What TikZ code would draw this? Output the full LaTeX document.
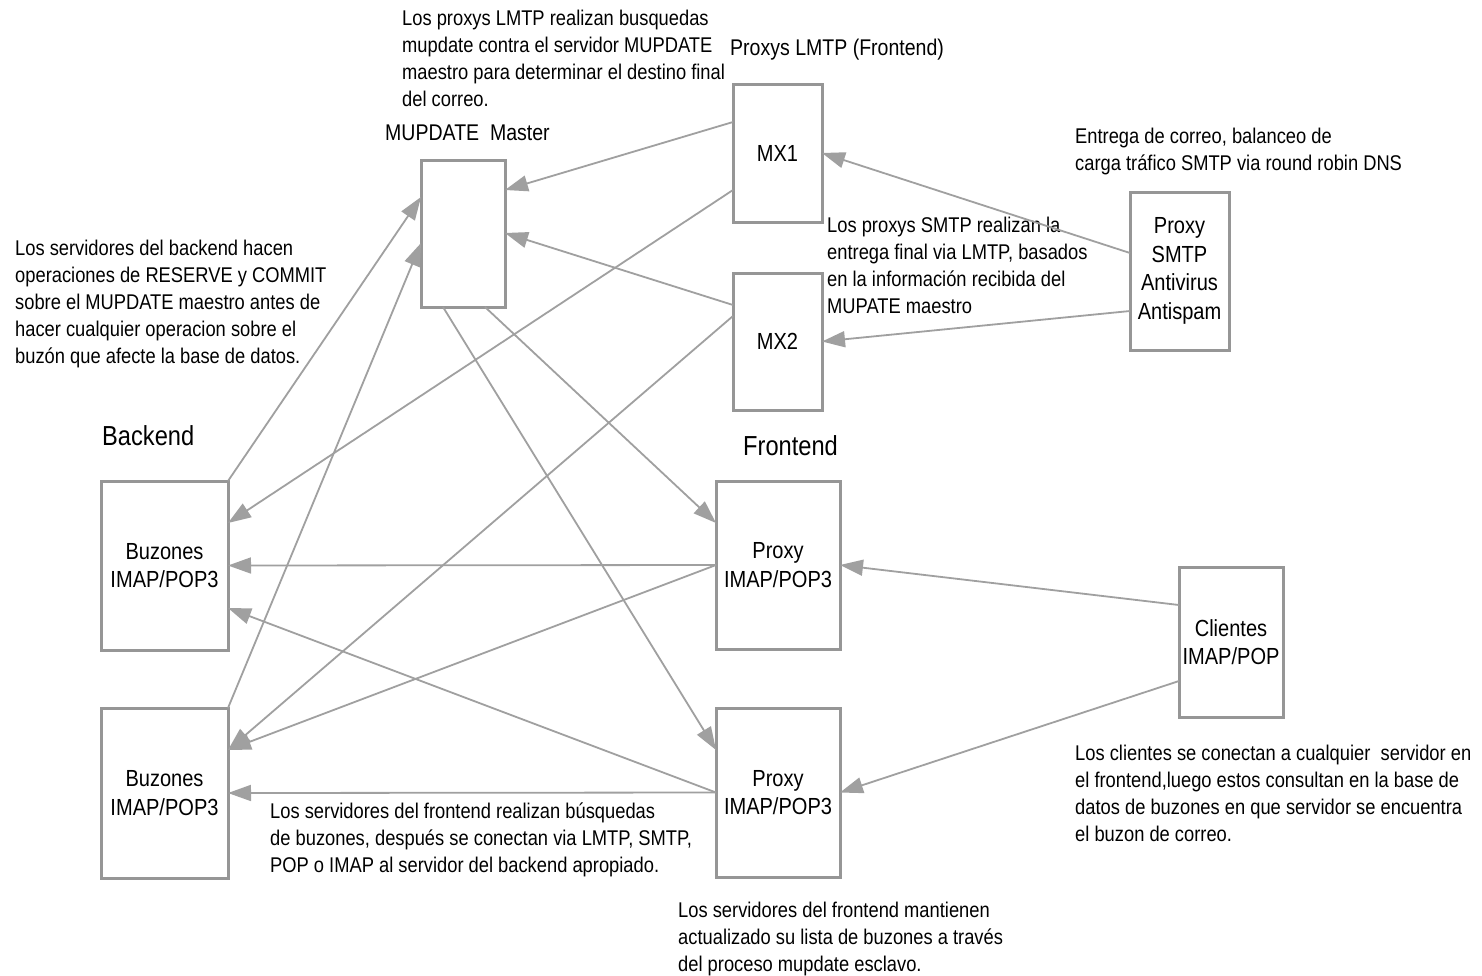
\documentclass[tikz,border=0pt]{standalone}
\usepackage{fontspec}
\setmainfont[FakeStretch=0.86]{Liberation Sans}
\usetikzlibrary{arrows.meta,calc}
\definecolor{linegray}{RGB}{160,160,160}
\definecolor{boxgray}{RGB}{150,150,150}
\begin{document}
\begin{tikzpicture}[x=1pt,y=-1pt,
  box/.style={draw=boxgray,line width=3pt,inner sep=0pt,outer sep=0pt,
    align=center,font=\fontsize{23.3}{28.5}\selectfont},
  link/.style={draw=linegray,line width=1.8pt,
    -{Triangle[length=23pt,width=16pt]}},
  note/.style={anchor=north west,inner sep=0pt,align=left,
    font=\fontsize{21.3}{27}\selectfont},
  head/.style={anchor=west,inner sep=0pt,font=\fontsize{22.7}{26}\selectfont},
  group/.style={anchor=west,inner sep=0pt,font=\fontsize{27.5}{30}\selectfont}]

\fill[white] (0,0) rectangle (1482,975);
\useasboundingbox (0,0) rectangle (1482,975);

% servers
\node[box,minimum width=84pt,minimum height=147pt] (mup) at (463,233.5) {};
\node[box,minimum width=89pt,minimum height=138pt] (mx1) at (777.5,153) {MX1};
\node[box,minimum width=89pt,minimum height=137pt] (mx2) at (777.5,341.5) {MX2};
\node[box,minimum width=99pt,minimum height=158pt] (smtp) at (1179.5,271)
  {Proxy\\SMTP\\Antivirus\\Antispam};
\node[box,minimum width=127pt,minimum height=169pt] (buz1) at (164.5,565.5)
  {Buzones\\IMAP/POP3};
\node[box,minimum width=127pt,minimum height=170pt] (buz2) at (164.5,793)
  {Buzones\\IMAP/POP3};
\node[box,minimum width=124pt,minimum height=168pt] (pr1) at (778,565)
  {Proxy\\IMAP/POP3};
\node[box,minimum width=124pt,minimum height=169pt] (pr2) at (778,792.5)
  {Proxy\\IMAP/POP3};
\node[box,minimum width=104pt,minimum height=150pt] (cli) at (1231,642)
  {Clientes\\IMAP/POP};

% group titles
\node[head] (tmup) at (385,133) {MUPDATE\ \ Master};
\node[head] (tlmtp) at (730,50) {Proxys\ LMTP (Frontend)};
\node[group] (tback) at (102,436) {Backend};
\node[group] (tfront) at (743,446) {Frontend};

% explanatory notes
\node[note] (n1) at (402,10) {Los proxys LMTP realizan busquedas\\
  mupdate contra el servidor MUPDATE\\
  maestro para determinar el destino final\\
  del correo.};
\node[note] (n2) at (15,240) {Los servidores del backend hacen\\
  operaciones de RESERVE y COMMIT\\
  sobre el MUPDATE maestro antes de\\
  hacer cualquier operacion sobre el\\
  buzón que afecte la base de datos.};
\node[note] (n3) at (1075,128) {Entrega de correo, balanceo de\\
  carga tráfico SMTP via round robin DNS};
\node[note] (n4) at (827,217) {Los proxys SMTP realizan la\\
  entrega final via LMTP, basados\\
  en la información recibida del\\
  MUPATE maestro};
\node[note] (n5) at (270,803) {Los servidores del frontend realizan búsquedas\\
  de buzones, después se conectan via LMTP, SMTP,\\
  POP o IMAP al servidor del backend apropiado.};
\node[note] (n6) at (1075,745) {Los clientes se conectan a cualquier\ \ servidor en\\
  el frontend,luego estos consultan en la base de\\
  datos de buzones en que servidor se encuentra\\
  el buzon de correo.};
\node[note] (n7) at (678,902) {Los servidores del frontend mantienen\\
  actualizado su lista de buzones a través\\
  del proceso mupdate esclavo.};

% LMTP delivery path
\draw[link] ([yshift=-38pt]mx1.north west) -- ([yshift=-30pt]mup.north east);
\draw[link] ([yshift=-106pt]mx1.north west) -- ([yshift=-42pt]buz1.north east);
\draw[link] ([yshift=-32pt]mx2.north west) -- ([yshift=-73pt]mup.north east);
\draw[link] ([yshift=-43pt]mx2.north west) -- ([yshift=-42pt]buz2.north east);
\draw[link] ([yshift=-61pt]smtp.north west) -- (mx1.east);
\draw[link] ([yshift=-119pt]smtp.north west) -- (mx2.east);

% backend reservations on the master
\draw[link] (buz1.north east) -- ([yshift=-37pt]mup.north west);
\draw[link] (buz2.north east) -- ([yshift=-83pt]mup.north west);

% master feeds the frontend proxies
\draw[link] ([xshift=-20pt]mup.south east) -- ([yshift=-42pt]pr1.north west);
\draw[link] ([xshift=22pt]mup.south west) -- ([yshift=-42pt]pr2.north west);

% proxies reach the backend mailboxes
\draw[link] (pr1.west) -- (buz1.east);
\draw[link] (pr1.west) -- ([yshift=-42pt]buz2.north east);
\draw[link] (pr2.west) -- ([yshift=42pt]buz1.south east);
\draw[link] (pr2.west) -- (buz2.east);

% clients
\draw[link] ([yshift=-38pt]cli.north west) -- (pr1.east);
\draw[link] ([yshift=-114pt]cli.north west) -- (pr2.east);
\end{tikzpicture}
\end{document}
